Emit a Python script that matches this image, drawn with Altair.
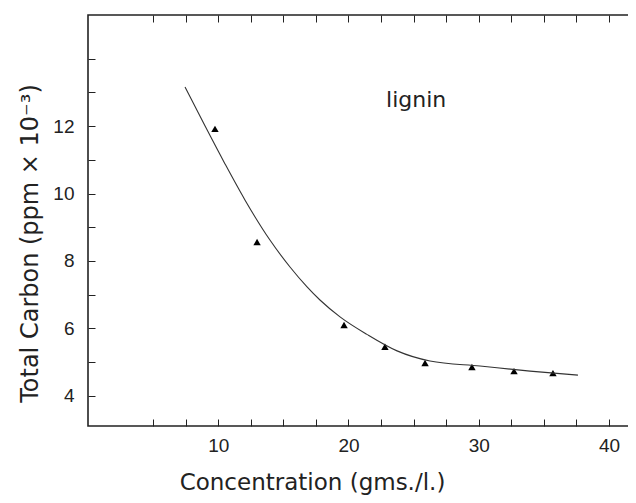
import altair as alt
import pandas as pd

# measured data points (triangles)
conc = [9.75, 12.98, 19.66, 22.80, 25.88, 29.48, 32.71, 35.70]
carbon = [11.92, 8.56, 6.10, 5.45, 4.97, 4.85, 4.73, 4.67]

# fitted curve
curve_x = [7.45, 8.98, 10.52, 12.05, 13.97, 15.51, 16.82, 17.81, 19.35, 21.42, 23.73, 26.26, 30.10, 33.94, 37.62]
curve_y = [13.16, 12.01, 10.88, 9.81, 8.62, 7.82, 7.23, 6.84, 6.34, 5.82, 5.33, 5.03, 4.88, 4.73, 4.61]

x_ticks = [5, 7.5, 10, 12.5, 15, 17.5, 20, 22.5, 25, 27.5, 30, 32.5, 35, 37.5, 40]
y_ticks = [4, 5, 6, 7, 8, 9, 10, 11, 12, 13, 14]

label_text = ["lignin"]
label_x = [25.2]
label_y = [12.56]

pts = pd.DataFrame({"x": conc, "y": carbon})
crv = pd.DataFrame({"x": curve_x, "y": curve_y})
lab = pd.DataFrame({"x": label_x, "y": label_y, "t": label_text})

INK = "#222222"
xs = alt.Scale(domain=[0, 42], nice=False, zero=False)
ys = alt.Scale(domain=[3.1, 15.3], nice=False, zero=False)

x_bottom = alt.Axis(
    orient="bottom", values=x_ticks, offset=-7, tickSize=7, domain=False, grid=False,
    labelExpr="datum.value % 10 == 0 ? datum.label : ''",
    labelFont="Liberation Sans", labelFontSize=19, labelColor=INK, labelPadding=10,
    tickColor=INK, tickWidth=1,
    title="Concentration (gms./l.)", titleFont="DejaVu Sans", titleFontSize=23,
    titleFontWeight="normal", titleColor=INK, titleX=224, titleY=70,
    titleBaseline="alphabetic", titleAlign="center", titleAnchor="start",
)
y_left = alt.Axis(
    orient="left", values=y_ticks, offset=-7, tickSize=7, domain=False, grid=False,
    labelExpr="(datum.value % 2 == 0 && datum.value <= 12) ? datum.label : ''",
    labelFont="Liberation Sans", labelFontSize=19, labelColor=INK, labelPadding=14,
    tickColor=INK, tickWidth=1,
    title="Total Carbon (ppm × 10⁻³)", titleFont="DejaVu Sans", titleFontSize=24,
    titleFontWeight="normal", titleColor=INK, titleAngle=270, titleX=-58, titleY=228,
    titleBaseline="alphabetic", titleAlign="center", titleAnchor="start",
)
x_top = alt.Axis(orient="top", values=x_ticks, offset=-7, tickSize=7, domain=False,
                 grid=False, labels=False, title=None, tickColor=INK, tickWidth=1)
y_right = alt.Axis(orient="right", values=y_ticks, offset=-7, tickSize=7, domain=False,
                   grid=False, labels=False, title=None, tickColor=INK, tickWidth=1)

points = alt.Chart(pts).mark_point(shape="triangle-up", filled=True, size=55,
                                   color="#000000", opacity=1).encode(
    x=alt.X("x:Q", scale=xs, axis=x_bottom),
    y=alt.Y("y:Q", scale=ys, axis=y_left),
)

curve = alt.Chart(crv).mark_line(color="#333333", strokeWidth=1.1,
                                 interpolate="monotone").encode(
    x=alt.X("x:Q", scale=xs, axis=x_top),
    y=alt.Y("y:Q", scale=ys, axis=y_right),
)

text = alt.Chart(lab).mark_text(font="DejaVu Sans", fontSize=22, color=INK,
                                align="center", baseline="alphabetic").encode(
    x=alt.X("x:Q", scale=xs, axis=None),
    y=alt.Y("y:Q", scale=ys, axis=None),
    text="t:N",
)

chart = alt.layer(points, curve, text).resolve_axis(
    x="independent", y="independent"
).properties(
    width=547, height=411,
    autosize=alt.AutoSizeParams(type="none"),
    padding={"left": 80, "top": 7, "right": -7, "bottom": 72},
    background="white",
).configure_view(stroke=INK, strokeWidth=1.6)

chart.save("out.html", embed_options={"renderer": "svg", "actions": False})
